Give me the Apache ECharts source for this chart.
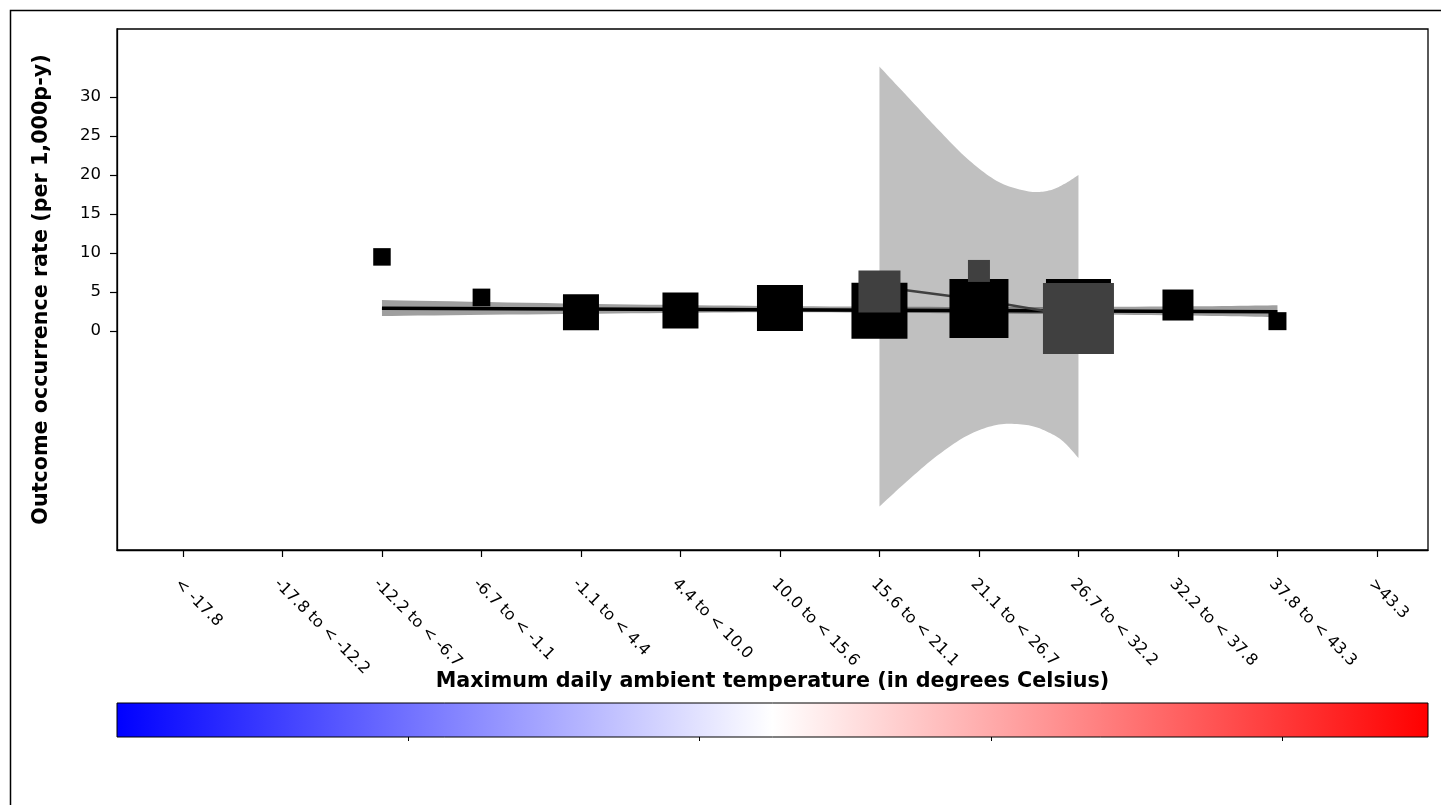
<!DOCTYPE html>
<html>
<head>
<meta charset="utf-8">
<script src="https://cdn.jsdelivr.net/npm/echarts@6/dist/echarts.min.js"></script>
<style>
html,body{margin:0;padding:0;background:#fff}
#chart_a{width:1441px;height:805px}
</style>
</head>
<body>
<div id="chart_a"></div>
<script>
// temperature bins (x categories)
var tempBins = ['< -17.8', '-17.8 to < -12.2', '-12.2 to < -6.7', '-6.7 to < -1.1', '-1.1 to < 4.4',
	'4.4 to < 10.0', '10.0 to < 15.6', '15.6 to < 21.1', '21.1 to < 26.7', '26.7 to < 32.2',
	'32.2 to < 37.8', '37.8 to < 43.3', '>43.3'];
var binIndex = [0, 1, 2, 3, 4, 5, 6, 7, 8, 9, 10, 11, 12];
var rateTicks = [0, 5, 10, 15, 20, 25, 30];
var colorbarTicks = [1, 2, 3, 4];

// observed rates, all subjects (black squares), weight -> square size
var obsX = [2, 3, 4, 5, 6, 7, 8, 9, 10, 11];
var obsRate = [9.5, 4.3, 2.4, 2.63, 2.95, 2.58, 2.88, 2.5, 3.33, 1.26];
var obsWeight = [1.75, 1.77, 3.6, 3.6, 4.6, 5.6, 5.9, 6.5, 3.1, 1.8];

// observed rates, subgroup (dark grey squares)
var subX = [7, 8, 9];
var subRate = [5.06, 7.7, 1.6];
var subWeight = [4.2, 2.2, 7.1];

// fitted trend, all subjects
var fitX = [2, 11];
var fitRate = [2.92, 2.47];
var fitBandX = [2, 4, 6, 8, 10, 11];
var fitBandUpper = [3.97, 3.5, 3.2, 3.08, 3.15, 3.3];
var fitBandLower = [1.92, 2.2, 2.4, 2.25, 2.0, 1.78];

// fitted trend, subgroup
var subFitX = [7, 8, 9];
var subFitRate = [5.66, 4.0, 1.83];
var subBandX = [7, 7.3, 7.6, 7.9, 8.2, 8.5, 8.7, 8.85, 9];
var subBandUpper = [33.9, 29.8, 25.7, 21.9, 19.1, 17.9, 18.0, 18.8, 20.0];
var subBandLower = [-22.5, -19.0, -15.8, -13.3, -12.0, -12.1, -13.0, -14.2, -16.3];

(function(){
	var font = 'DejaVu Sans';
	function pairs(xs, ys){
		var out = [];
		for (var i = 0; i < xs.length; i++) out.push([xs[i], ys[i]]);
		return out;
	}
	function squares(xs, ys, ws){
		var out = [];
		for (var i = 0; i < xs.length; i++) out.push([xs[i], ys[i], ws[i]]);
		return out;
	}
	// catmull-rom smoothing of pixel points (drawing only)
	function smoothPts(pts){
		var out = [], n = pts.length, steps = 12;
		for (var i = 0; i < n - 1; i++) {
			var p0 = pts[Math.max(i - 1, 0)], p1 = pts[i], p2 = pts[i + 1], p3 = pts[Math.min(i + 2, n - 1)];
			for (var s = 0; s < steps; s++) {
				var t = s / steps, t2 = t * t, t3 = t2 * t;
				out.push([
					0.5 * (2 * p1[0] + (-p0[0] + p2[0]) * t + (2 * p0[0] - 5 * p1[0] + 4 * p2[0] - p3[0]) * t2 + (-p0[0] + 3 * p1[0] - 3 * p2[0] + p3[0]) * t3),
					0.5 * (2 * p1[1] + (-p0[1] + p2[1]) * t + (2 * p0[1] - 5 * p1[1] + 4 * p2[1] - p3[1]) * t2 + (-p0[1] + 3 * p1[1] - 3 * p2[1] + p3[1]) * t3)
				]);
			}
		}
		out.push(pts[n - 1]);
		return out;
	}
	function band(name, xs, up, lo, color, z){
		return {
			name: name, type: 'custom', z: z, silent: true,
			data: [[xs[0], up[0]]],
			encode: {x: 0, y: 1},
			renderItem: function(params, api){
				if (params.dataIndex > 0) return;
				var top = [], bot = [];
				for (var i = 0; i < xs.length; i++) {
					top.push(api.coord([xs[i], up[i]]));
					bot.push(api.coord([xs[i], lo[i]]));
				}
				var pts = smoothPts(top).concat(smoothPts(bot).reverse());
				return {type: 'polygon', shape: {points: pts}, style: {fill: color}};
			}
		};
	}

	var mychart1 = echarts.init(document.getElementById('chart_a'));
	var option1 = {
		backgroundColor: '#fff',
		animation: false,
		graphic: [{
			type: 'rect', z: 100,
			shape: {x: 10.5, y: 10.5, width: 1440, height: 800},
			style: {fill: 'none', stroke: '#000', lineWidth: 1.5}
		}],
		grid: [{
			left: 117, top: 29, width: 1311, height: 521,
			show: true, borderColor: '#000', borderWidth: 1.3, backgroundColor: 'transparent'
		}, {
			left: 117, top: 703, width: 1311, height: 34,
			show: true, borderColor: '#000', borderWidth: 1,
			backgroundColor: new echarts.graphic.LinearGradient(0, 0, 1, 0, [
				{offset: 0, color: '#0000ff'},
				{offset: 0.5, color: '#ffffff'},
				{offset: 1, color: '#ff0000'}
			])
		}],
		xAxis: [{
			type: 'value', gridIndex: 0, min: -0.663, max: 12.513,
			name: 'Maximum daily ambient temperature (in degrees Celsius)',
			nameLocation: 'middle', nameGap: 121, nameMoveOverlap: false,
			nameTextStyle: {fontFamily: font, fontWeight: 'bold', fontSize: 20.7, color: '#000'},
			axisLine: {show: true, onZero: false, lineStyle: {color: '#000', width: 1.3}},
			axisTick: {show: true, customValues: binIndex, length: 7, lineStyle: {color: '#000', width: 1.2}},
			axisLabel: {
				customValues: binIndex, rotate: -45, margin: 26, verticalAlign: 'top',
				fontFamily: font, fontSize: 16, color: '#000',
				formatter: function(v){ return tempBins[Math.round(v)]; }
			},
			splitLine: {show: false}
		}, {
			type: 'value', gridIndex: 1, min: 0, max: 4.5, interval: 1,
			axisLine: {show: false},
			axisTick: {show: true, customValues: colorbarTicks, length: 4, lineStyle: {color: '#000', width: 1}},
			axisLabel: {show: false},
			splitLine: {show: false}
		}],
		yAxis: [{
			type: 'value', gridIndex: 0, min: -28.08, max: 38.72,
			name: 'Outcome occurrence rate (per 1,000p-y)',
			nameLocation: 'middle', nameGap: 65, nameRotate: 90, nameMoveOverlap: false,
			nameTextStyle: {fontFamily: font, fontWeight: 'bold', fontSize: 20.7, color: '#000'},
			axisLine: {show: true, onZero: false, lineStyle: {color: '#000', width: 1.3}},
			axisTick: {show: true, customValues: rateTicks, length: 7, lineStyle: {color: '#000', width: 1.2}},
			axisLabel: {customValues: rateTicks, margin: 16, fontFamily: font, fontSize: 16.5, color: '#000'},
			splitLine: {show: false}
		}, {
			type: 'value', gridIndex: 1, min: 0, max: 1, show: false
		}],
		series: [
			band('sub band', subBandX, subBandUpper, subBandLower, '#c0c0c0', 1),
			band('fit band', fitBandX, fitBandUpper, fitBandLower, 'rgba(64,64,64,0.5)', 2),
			{
				name: 'fit', type: 'line', data: pairs(fitX, fitRate), z: 3,
				showSymbol: false, symbol: 'none', lineStyle: {color: '#000', width: 3.5}
			},
			{
				name: 'sub fit', type: 'line', data: pairs(subFitX, subFitRate), z: 4,
				showSymbol: false, symbol: 'none', lineStyle: {color: '#404040', width: 2.5}
			},
			{
				name: 'observed', type: 'scatter', data: squares(obsX, obsRate, obsWeight), z: 5,
				symbol: 'rect', symbolSize: function(v){ return v[2] * 10; },
				itemStyle: {color: '#000', opacity: 1}
			},
			{
				name: 'subgroup', type: 'scatter', data: squares(subX, subRate, subWeight), z: 6,
				symbol: 'rect', symbolSize: function(v){ return v[2] * 10; },
				itemStyle: {color: '#404040', opacity: 1}
			}
		]
	};
	mychart1.setOption(option1, true);
})();
</script>
</body>
</html>
